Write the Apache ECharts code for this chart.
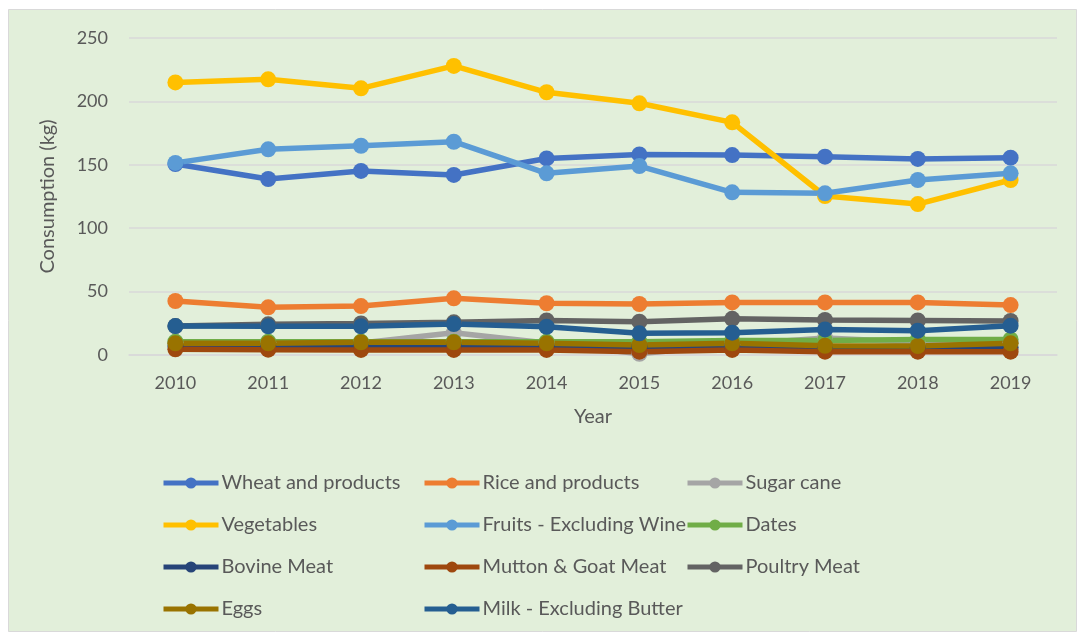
<!DOCTYPE html>
<html>
<head>
<meta charset="utf-8">
<script src="https://cdn.jsdelivr.net/npm/echarts@6/dist/echarts.min.js"></script>
<style>
  html, body { margin: 0; padding: 0; background: #ffffff; }
  #chart { width: 1080px; height: 637px; }
</style>
</head>
<body>
<div id="chart"></div>
<script>
// Per-capita consumption by food item, 2010-2019 (kg)
const years = ['2010', '2011', '2012', '2013', '2014', '2015', '2016', '2017', '2018', '2019'];
const yTicks = [0, 50, 100, 150, 200, 250];

const wheat   = [150.6, 138.8, 145.2, 142.0, 155.0, 158.2, 157.7, 156.4, 154.6, 155.6];
const rice    = [42.6, 37.6, 38.6, 44.7, 40.8, 40.2, 41.5, 41.5, 41.5, 39.4];
const sugar   = [10.0, 10.0, 9.5, 17.5, 9.5, 1.0, 8.0, 13.5, 10.0, 10.0];
const veg     = [215.0, 217.4, 210.3, 228.0, 207.2, 198.5, 183.5, 125.4, 119.0, 138.0];
const fruits  = [151.5, 162.2, 165.0, 168.2, 143.3, 149.0, 128.3, 127.5, 138.0, 143.3];
const dates   = [10.5, 10.5, 10.5, 10.5, 10.5, 10.5, 11.5, 11.5, 12.2, 12.2];
const bovine  = [7.0, 7.0, 7.5, 7.5, 7.0, 6.5, 6.5, 6.0, 6.0, 6.0];
const mutton  = [4.5, 4.2, 4.0, 4.0, 4.0, 2.6, 4.0, 2.6, 2.6, 2.6];
const poultry = [22.8, 24.2, 24.9, 25.8, 27.2, 26.3, 28.5, 27.6, 27.2, 26.8];
const eggs    = [9.2, 9.2, 10.0, 10.0, 9.2, 7.9, 9.2, 7.3, 7.1, 9.2];
const milk    = [22.8, 22.6, 22.6, 24.4, 22.3, 17.1, 17.6, 20.2, 19.2, 23.1];

const seriesDefs = [
  ['Wheat and products', wheat, '#4472C4'],
  ['Rice and products', rice, '#ED7D31'],
  ['Sugar cane', sugar, '#A5A5A5'],
  ['Vegetables', veg, '#FFC000'],
  ['Fruits - Excluding Wine', fruits, '#5B9BD5'],
  ['Dates', dates, '#70AD47'],
  ['Bovine Meat', bovine, '#264478'],
  ['Mutton & Goat Meat', mutton, '#9E480E'],
  ['Poultry Meat', poultry, '#636363'],
  ['Eggs', eggs, '#997300'],
  ['Milk - Excluding Butter', milk, '#255E91']
];

const FONT = 'Lato';
const TEXT = '#595959';

// legend grid: three columns, four rows, filled row by row
const legendColX = [161, 422, 685];
const legendRowY = [483, 525, 567, 609];

const legends = seriesDefs.map(([name], i) => ({
  data: [name],
  orient: 'horizontal',
  left: legendColX[i % 3],
  top: legendRowY[Math.floor(i / 3)] - 12,
  padding: 0,
  itemWidth: 55,
  itemHeight: 14,
  itemGap: 0,
  lineStyle: { width: 5 },
  textStyle: { fontFamily: FONT, fontSize: 20, color: TEXT, padding: [0, 0, 0, -2], lineHeight: 24 }
}));

const chart = echarts.init(document.getElementById('chart'));
chart.setOption({
  animation: false,
  graphic: [{
    type: 'rect',
    z: -10,
    shape: { x: 8.5, y: 9.5, width: 1068, height: 622 },
    style: { fill: '#E2EFDA', stroke: '#D9D9D9', lineWidth: 1 }
  }],
  grid: { left: 129, right: 23, top: 38, bottom: 282 },
  legend: legends,
  xAxis: {
    type: 'category',
    data: years,
    boundaryGap: true,
    name: 'Year',
    nameLocation: 'middle',
    nameGap: 52,
    nameTextStyle: { fontFamily: FONT, fontSize: 20, color: TEXT },
    axisLine: { show: true, lineStyle: { color: '#D9D9D9', width: 1.5 } },
    axisTick: { show: false },
    axisLabel: { fontFamily: FONT, fontSize: 18, color: TEXT, margin: 19 }
  },
  yAxis: {
    type: 'value',
    min: yTicks[0],
    max: yTicks[yTicks.length - 1],
    interval: 50,
    name: 'Consumption (kg)',
    nameLocation: 'middle',
    nameGap: 71,
    nameTextStyle: { fontFamily: FONT, fontSize: 20, color: TEXT },
    axisLine: { show: false },
    axisTick: { show: false },
    splitLine: { lineStyle: { color: '#D9D9D9', width: 1.5 } },
    axisLabel: { fontFamily: FONT, fontSize: 18, color: TEXT, margin: 21 }
  },
  series: seriesDefs.map(([name, data, color]) => ({
    name,
    type: 'line',
    data,
    color,
    symbol: 'circle',
    symbolSize: 16,
    lineStyle: { width: 5.5, color },
    itemStyle: { color },
    emphasis: { disabled: true }
  }))
});
</script>
</body>
</html>
